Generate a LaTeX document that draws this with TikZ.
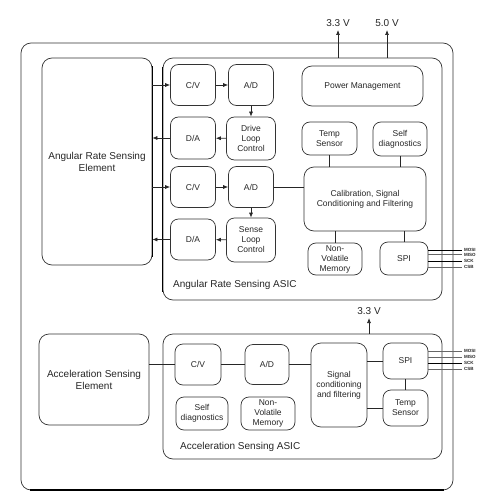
\documentclass[tikz,border=0pt]{standalone}
\usepackage{fontspec}
\setmainfont{Liberation Sans}
\usetikzlibrary{arrows.meta}
\begin{document}
\begin{tikzpicture}[x=1pt,y=-1pt,
  blk/.style={draw=black!80, line width=0.7pt, rounded corners=8pt, align=center,
    font=\fontsize{8.5}{10}\selectfont, inner sep=1pt, text=black!85},
  big/.style={draw=black!80, line width=0.7pt, rounded corners=10pt, align=center,
    font=\fontsize{10}{12}\selectfont, inner sep=1pt, text=black!85},
  wire/.style={draw=black!85, line width=0.7pt},
  arr/.style={wire, -{Latex[length=5pt,width=4pt]}},
  lbl/.style={font=\fontsize{10}{12}\selectfont, text=black!85, inner sep=0pt},
  sig/.style={font=\fontsize{4.5}{5}\selectfont\bfseries, text=black!85, inner sep=0pt, anchor=west},
  thk/.style={draw=black, line width=1.3pt}
]
\useasboundingbox (0,0) rectangle (492,500);
% outer frame
\draw[draw=black!80, line width=0.7pt, rounded corners=10pt] (21,43) rectangle (453,490);
\draw[thk, line width=1.8pt] (30,490) -- (444,490);

% ---------- Angular rate ----------
\node[big, minimum width=110pt, minimum height=207pt] (ase) at (97,161.5) {Angular Rate Sensing\\Element};
\node[big, minimum width=279pt, minimum height=242pt, rounded corners=10pt] (asicA) at (302.5,179) {};
\node[lbl, anchor=west] (asicAl) at (173,285) {Angular Rate Sensing ASIC};
\draw[thk] (ase.east) ++(0,-95) -- ++(0,190);
\draw[thk] (asicA.west) ++(0,-112) -- ++(0,225);

\node[blk, minimum width=45pt, minimum height=41pt] (cvA) at (193,85) {C/V};
\node[blk, minimum width=45pt, minimum height=41pt] (adA) at (251,85) {A/D};
\node[blk, minimum width=45pt, minimum height=42pt] (daA) at (193,138) {D/A};
\node[blk, minimum width=49pt, minimum height=43pt] (dlc) at (251,138.5) {Drive\\Loop\\Control};
\node[blk, minimum width=45pt, minimum height=41pt] (cvB) at (193,187) {C/V};
\node[blk, minimum width=45pt, minimum height=41pt] (adB) at (251,187) {A/D};
\node[blk, minimum width=45pt, minimum height=41pt] (daB) at (193,239.5) {D/A};
\node[blk, minimum width=49pt, minimum height=44pt] (slc) at (251,240) {Sense\\Loop\\Control};

\node[blk, minimum width=121pt, minimum height=40pt, rounded corners=10pt] (pm) at (362.5,86) {Power Management};
\node[blk, minimum width=55pt, minimum height=33pt] (ts) at (329.5,138.5) {Temp\\Sensor};
\node[blk, minimum width=54pt, minimum height=34pt] (sd) at (400,139) {Self\\diagnostics};
\node[blk, minimum width=122pt, minimum height=64pt, rounded corners=10pt] (cal) at (365,199) {Calibration, Signal\\Conditioning and Filtering};
\node[blk, minimum width=54pt, minimum height=32pt] (nvm) at (335,259) {Non-\\Volatile\\Memory};
\node[blk, minimum width=48pt, minimum height=33pt] (spi) at (404,258.5) {SPI};

\draw[arr] (ase.east |- cvA) -- (cvA.west);
\draw[arr] (cvA) -- (adA);
\draw[arr] (adA) -- (dlc);
\draw[arr] (dlc) -- (daA);
\draw[arr] (daA.west) -- (ase.east |- daA);
\draw[arr] (ase.east |- cvB) -- (cvB.west);
\draw[arr] (cvB) -- (adB);
\draw[arr] (adB) -- (slc);
\draw[arr] (slc) -- (daB);
\draw[arr] (daB.west) -- (ase.east |- daB);
\draw[wire] (adB.east) -- (adB.east -| cal.west);
\draw[wire] (ts.south) -- (ts.south |- cal.north);
\draw[wire] (sd.south) -- (sd.south |- cal.north);
\draw[wire] (nvm.north |- cal.south) -- (nvm.north);
\draw[wire] (spi.north |- cal.south) -- (spi.north);

% power
\coordinate (p33) at (338,30);
\coordinate (p50) at (387,30);
\draw[arr] (asicA.north -| p33) -- (p33);
\draw[arr] (asicA.north -| p50) -- (p50);
\node[lbl, anchor=south] (l33) at (338,27) {3.3 V};
\node[lbl, anchor=south] (l50) at (387,27) {5.0 V};

% SPI lines top
\foreach \yy/\nm/\w/\c in {250/MOSI/1pt/black, 254.5/MISO/0.6pt/black!60, 261/SCK/1pt/black, 267/CSB/0.6pt/black!60}{
  \coordinate (e\nm) at (462,\yy);
  \draw[draw=\c, line width=\w] (spi.east |- e\nm) -- (e\nm);
  \node[sig] (t\nm) at (464,\yy) {\nm};
}

% ---------- Acceleration ----------
\node[big, minimum width=110pt, minimum height=91pt] (ace) at (94,379.5) {Acceleration Sensing\\Element};
\node[big, minimum width=279pt, minimum height=125pt, rounded corners=10pt] (asicB) at (302.5,396.5) {};
\node[lbl, anchor=west] (asicBl) at (180,447) {Acceleration Sensing ASIC};

\node[blk, minimum width=46pt, minimum height=41pt] (cvC) at (198,364.5) {C/V};
\node[blk, minimum width=44pt, minimum height=40pt] (adC) at (267,364.5) {A/D};
\node[blk, minimum width=56pt, minimum height=84pt, rounded corners=10pt] (sgc) at (339,385) {Signal\\conditioning\\and filtering};
\node[blk, minimum width=45pt, minimum height=36pt] (spiC) at (405.5,361) {SPI};
\node[blk, minimum width=45pt, minimum height=36pt] (tsC) at (405.5,408) {Temp\\Sensor};
\node[blk, minimum width=52pt, minimum height=33pt] (sdC) at (202,413.5) {Self\\diagnostics};
\node[blk, minimum width=54pt, minimum height=33pt] (nvmC) at (268,413.5) {Non-\\Volatile\\Memory};

\draw[wire] (ace.east |- cvC) -- (cvC.west);
\draw[wire] (cvC) -- (adC);
\draw[wire] (adC.east) -- (adC.east -| sgc.west);
\draw[wire] (sgc.east |- spiC) -- (spiC.west);
\draw[wire] (sgc.east |- tsC) -- (tsC.west);
\draw[wire] (spiC) -- (tsC);

\coordinate (p33b) at (369,318);
\draw[arr] (asicB.north -| p33b) -- (p33b);
\node[lbl, anchor=south] (l33b) at (369,315) {3.3 V};

\foreach \yy/\nm/\w/\c in {351/MOSI/0.6pt/black!60, 357/MISO/0.6pt/black!60, 363/SCK/1pt/black, 369/CSB/0.6pt/black!60}{
  \coordinate (f\nm) at (462,\yy);
  \draw[draw=\c, line width=\w] (spiC.east |- f\nm) -- (f\nm);
  \node[sig] (u\nm) at (464,\yy) {\nm};
}
\end{tikzpicture}
\end{document}
